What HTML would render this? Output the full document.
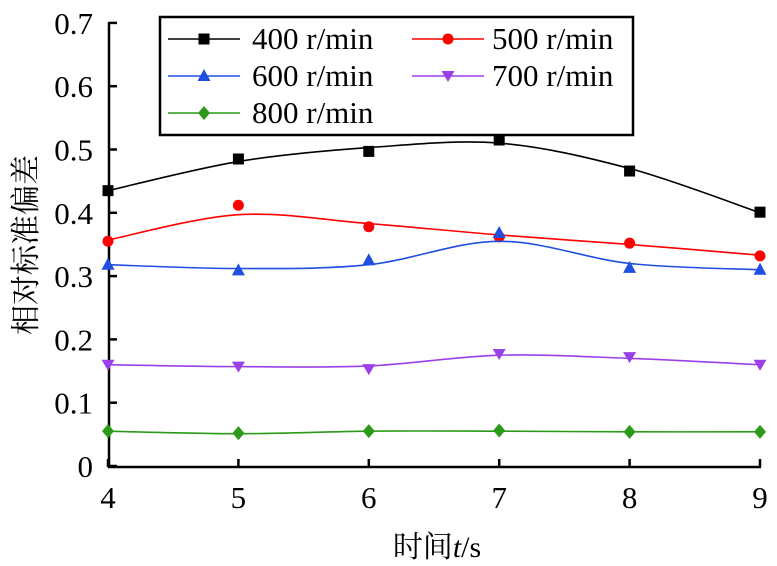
<!DOCTYPE html>
<html><head><meta charset="utf-8"><style>
body{margin:0;background:#fff}
svg{display:block}
svg text{font-family:"Liberation Serif","DejaVu Serif","Noto Serif CJK SC",serif;fill:#000}
</style></head><body>
<svg id="s" width="777" height="566" viewBox="0 0 777 566" xmlns="http://www.w3.org/2000/svg" font-family="'Liberation Serif','DejaVu Serif','Noto Serif CJK SC',serif">
<g stroke="#000" stroke-width="2.5" fill="none">
<path d="M109 22 V467 H761"/>
</g>
<g id="ticks" stroke="#000" stroke-width="2.5"></g>
<g font-size="31" text-anchor="end" id="yl"></g>
<g font-size="31" text-anchor="middle" id="xl"></g>
<text x="437" y="557" font-size="30" text-anchor="middle">时间<tspan font-style="italic">t</tspan>/s</text>
<text transform="translate(36,245) rotate(-90)" font-size="30" text-anchor="middle">相对标准偏差</text>
<g id="series"></g>
<rect x="160" y="17" width="473" height="118" fill="#fff" stroke="#000" stroke-width="2.5"/>
<g id="leg" font-size="31"></g>
</svg>
<script>
const NS="http://www.w3.org/2000/svg";
const X=t=>108+130.4*(t-4), Y=v=>466-633*v;
function el(p,tag,a,txt){const e=document.createElementNS(NS,tag);for(const k in a)e.setAttribute(k,a[k]);if(txt!=null)e.textContent=txt;document.getElementById(p).appendChild(e);return e;}
for(let i=0;i<=7;i++){const y=Y(i/10);el('ticks','line',{x1:109,x2:117,y1:y,y2:y});el('yl','text',{x:93,y:y+11},i==0?'0':(i/10).toFixed(1));}
for(let t=4;t<=9;t++){const x=X(t);el('ticks','line',{x1:x,x2:x,y1:467,y2:459});el('xl','text',{x:x,y:508},t);}
const S=[
{c:'#000',m:'sq',p:[.435,.485,.497,.515,.466,.401],k:[.435,.481,.503,.510,.470,.400]},
{c:'#f00',m:'ci',p:[.355,.412,.378,.362,.352,.332],k:[.357,.397,.383,.365,.350,.333]},
{c:'#1f4fe0',m:'tu',p:[.318,.309,.325,.368,.313,.310],k:[.318,.312,.318,.355,.320,.310]},
{c:'#9b40e8',m:'td',p:[.160,.157,.153,.177,.172,.160],k:[.160,.157,.158,.175,.170,.160]},
{c:'#2a9a18',m:'di',p:[.055,.052,.055,.056,.054,.054],k:[.055,.051,.055,.055,.054,.054]}];
function cr(pts){let d=`M${pts[0][0]} ${pts[0][1]}`;for(let i=0;i<pts.length-1;i++){const p0=pts[Math.max(i-1,0)],p1=pts[i],p2=pts[i+1],p3=pts[Math.min(i+2,pts.length-1)];d+=` C${p1[0]+(p2[0]-p0[0])/6} ${p1[1]+(p2[1]-p0[1])/6} ${p2[0]-(p3[0]-p1[0])/6} ${p2[1]-(p3[1]-p1[1])/6} ${p2[0]} ${p2[1]}`;}return d;}
function mk(g,m,x,y,c){
 if(m=='sq')el(g,'rect',{x:x-5.5,y:y-5.5,width:11,height:11,fill:c});
 else if(m=='ci')el(g,'circle',{cx:x,cy:y,r:5.5,fill:c});
 else if(m=='tu')el(g,'path',{d:`M${x} ${y-7}L${x+6.5} ${y+5}L${x-6.5} ${y+5}Z`,fill:c});
 else if(m=='td')el(g,'path',{d:`M${x} ${y+6}L${x+6.5} ${y-5}L${x-6.5} ${y-5}Z`,fill:c});
 else el(g,'path',{d:`M${x} ${y-7}L${x+6} ${y}L${x} ${y+7}L${x-6} ${y}Z`,fill:c});
}
S.forEach(s=>{el('series','path',{d:cr(s.k.map((v,i)=>[X(4+i),Y(v)])),stroke:s.c,'stroke-width':1.6,fill:'none'});s.p.forEach((v,i)=>mk('series',s.m,X(4+i),Y(v),s.c));});
const L=[[168,39,0,'400 r/min'],[412,39,1,'500 r/min'],[168,76,2,'600 r/min'],[412,76,3,'700 r/min'],[168,113,4,'800 r/min']];
L.forEach(([x,y,i,t])=>{const s=S[i];el('leg','line',{x1:x,x2:x+72,y1:y,y2:y,stroke:s.c,'stroke-width':1.6});mk('leg',s.m,x+36,y,s.c);el('leg','text',{x:x+(i%2?80:84),y:y+10},t);});
</script>
</body></html>
